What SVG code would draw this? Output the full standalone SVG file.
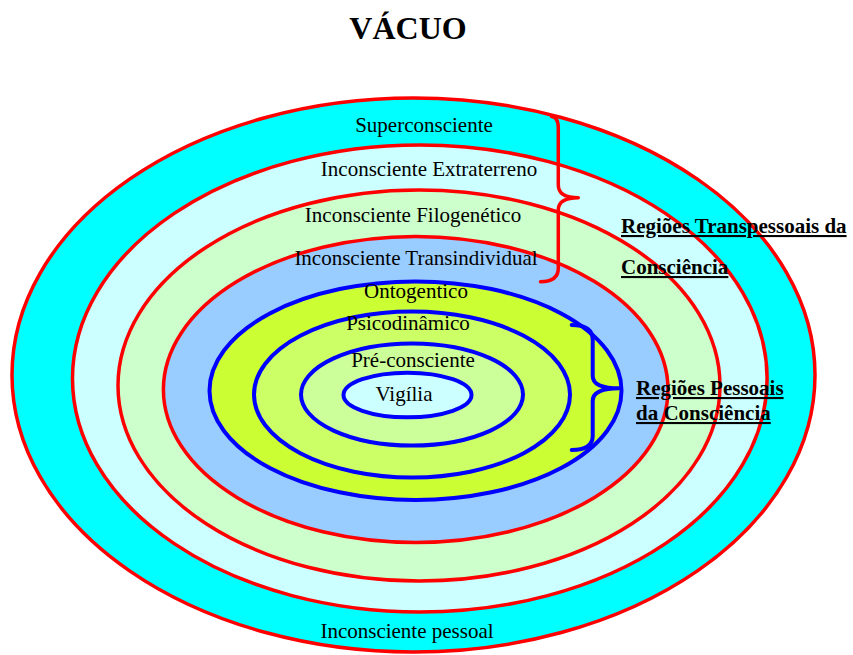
<svg xmlns="http://www.w3.org/2000/svg" width="853" height="655" viewBox="0 0 853 655">
<style>
.red{stroke:#FF0000;stroke-width:3.5}
.blue{stroke:#0000FF;stroke-width:4}
.t{font-family:"Liberation Serif","Times New Roman",serif;font-size:21px;fill:#000;text-anchor:middle}
.b{font-family:"Liberation Serif","Times New Roman",serif;font-size:21px;font-weight:bold;fill:#000;text-decoration:underline}
.brace{fill:none;stroke-linecap:round;stroke-linejoin:round}
</style>
<rect width="853" height="655" fill="#FFFFFF"/>
<text id="title" x="408" y="39" font-family="'Liberation Serif','Times New Roman',serif" font-size="32" font-weight="bold" text-anchor="middle">VÁCUO</text>
<g id="superconsciente"><ellipse cx="413.5" cy="375" rx="401.5" ry="277" fill="#00FFFF" class="red"/><text class="t" x="424" y="132">Superconsciente</text><text class="t" x="407" y="638">Inconsciente pessoal</text></g>
<g id="extraterreno"><ellipse cx="419.8" cy="378.5" rx="347.3" ry="233.5" fill="#CCFFFF" class="red"/><text class="t" x="429" y="176">Inconsciente Extraterreno</text></g>
<g id="filogenetico"><ellipse cx="419" cy="385.5" rx="301" ry="195.5" fill="#CCFFCC" class="red"/><text class="t" x="413" y="222">Inconsciente Filogenético</text></g>
<g id="transindividual"><ellipse cx="415.7" cy="389.5" rx="252.3" ry="153" fill="#99CCFF" class="red"/><text class="t" x="416" y="265">Inconsciente Transindividual</text></g>
<g id="ontogentico"><ellipse cx="415.5" cy="390.7" rx="206" ry="109.3" fill="#CCFF33" class="blue"/><text class="t" x="416" y="298">Ontogentico</text></g>
<g id="psicodinamico"><ellipse cx="412" cy="394.5" rx="158" ry="83" fill="#CCFF66" class="blue"/><text class="t" x="408" y="330">Psicodinâmico</text></g>
<g id="preconsciente"><ellipse cx="412" cy="394.5" rx="111" ry="51" fill="#CCFF99" class="blue"/><text class="t" x="413" y="367">Pré-consciente</text></g>
<g id="vigilia"><ellipse cx="407.5" cy="395" rx="64" ry="22.3" fill="#CCFFFF" class="blue"/><text class="t" x="404" y="401">Vigília</text></g>
<g id="connectors">
<path class="brace red" d="M551.5,116.5 Q558.3,117 558.3,128 L558.3,185 Q558.3,197.7 578.3,197.7 Q558.3,197.7 558.3,210 L558.3,268 Q558.3,281.7 540.5,281.7"/>
<path class="brace blue" d="M571.7,325 Q592.7,325 592.7,340 L592.7,376 Q592.7,388.3 619.3,388.3 Q592.7,388.3 592.7,401 L592.7,436 Q592.7,450 571.7,450"/>
</g>
<g id="transpessoais"><text class="b" x="621" y="233">Regiões Transpessoais da</text><text class="b" x="621" y="274">Consciência</text></g>
<g id="pessoais"><text class="b" x="636" y="395">Regiões Pessoais</text><text class="b" x="636" y="420">da Consciência</text></g>
</svg>
